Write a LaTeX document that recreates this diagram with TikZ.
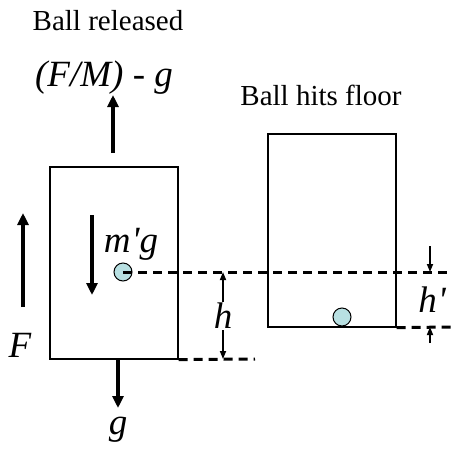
\documentclass[tikz,border=0pt]{standalone}
\usepackage{fontspec}
\setmainfont{Liberation Serif}
\usepackage{xcolor}
\usetikzlibrary{arrows.meta,positioning}
\definecolor{ballcyan}{RGB}{184,224,226}
\begin{document}
\begin{tikzpicture}[x=1pt, y=-1pt,
    box/.style={rectangle, draw, line width=1.2pt, minimum width=128pt, minimum height=192pt, inner sep=0pt},
    ball/.style={circle, draw, line width=1pt, fill=ballcyan, minimum size=18pt, inner sep=0pt},
    arrow/.style={-{Triangle[length=12pt, width=11pt]}, line width=3.2pt},
    dim/.style={-{Triangle[length=8pt, width=6pt]}, line width=1.6pt},
    guide/.style={line width=3pt, dash pattern=on 9pt off 6pt},
    title/.style={font=\fontsize{29}{29}\selectfont, inner sep=0pt},
    sym/.style={font=\fontsize{37}{37}\selectfont\itshape, inner sep=1pt}
]
    \useasboundingbox (0,0) rectangle (459,451);

    % Ball released
    \node[title] (released) at (108,21) {Ball released};
    \node[box] (boxA) at (114,263) {};
    \node[ball] (ballA) at (123,272) {};
    \node[sym] (accel) at (104,78) {(F/M) - g};
    \node[sym] (force) at (20,345) {F};
    \node[sym] (weight) at (131,244) {m\kern1pt\textquotesingle g};
    \node[sym] (grav) at (118,430) {g};
    \node[sym] (hA) at (223,316) {h};

    % Ball hits floor
    \node[title] (hits) at (321,95) {Ball hits floor};
    \node[box, minimum height=193pt] (boxB) at (332,230.5) {};
    \node[ball] (ballB) at (342,317) {};
    \node[sym] (hB) at (432,300) {h\kern1pt\textquotesingle};

    % Arrow ends
    \coordinate (accelTail) at (113,153);
    \coordinate (accelHead) at (113,95);
    \coordinate (forceTail) at (23,307);
    \coordinate (forceHead) at (23,213);
    \coordinate (weightTail) at (92,215);
    \coordinate (weightHead) at (92,295);
    \coordinate (gravHead) at (118,408);
    \coordinate (hAtop) at (223,272);
    \coordinate (hAbot) at (223,359);
    \coordinate (hBtop) at (430,246);
    \coordinate (hBtopEnd) at (430,272);
    \coordinate (hBbot) at (430,343);
    \coordinate (hBbotEnd) at (430,327);

    % Dashed levels
    \coordinate (upperEnd) at (452,272);
    \coordinate (lowerEndA) at (255,359);
    \coordinate (lowerEndB) at (452,327);
    \draw[guide] (ballA.center) -- (upperEnd);
    \draw[guide] (boxA.south east) -- (lowerEndA);
    \draw[guide] (boxB.south east) -- (lowerEndB);

    % Arrows
    \draw[arrow] (accelTail) -- (accelHead);
    \draw[arrow] (forceTail) -- (forceHead);
    \draw[arrow] (weightTail) -- (weightHead);
    \draw[arrow] (boxA.south -| gravHead) -- (gravHead);
    \draw[dim] (hA) -- (hAtop);
    \draw[dim] (hA) -- (hAbot);
    \draw[dim] (hBtop) -- (hBtopEnd);
    \draw[dim] (hBbot) -- (hBbotEnd);

\end{tikzpicture}
\end{document}
